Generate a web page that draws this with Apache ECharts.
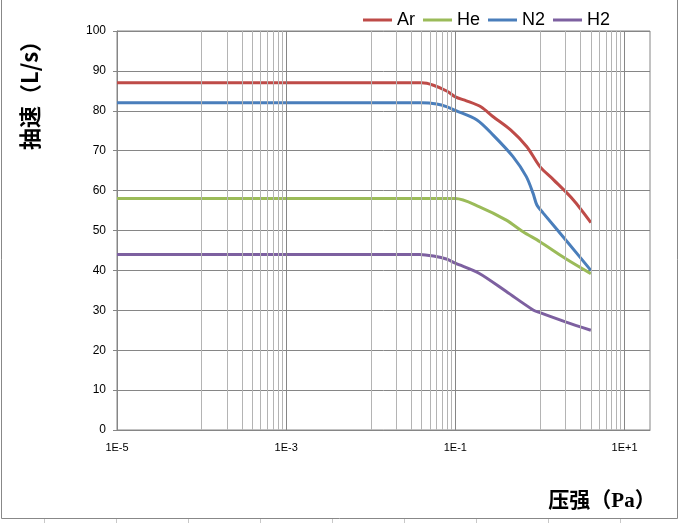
<!DOCTYPE html>
<html><head><meta charset="utf-8">
<script src="https://cdn.jsdelivr.net/npm/echarts@6/dist/echarts.min.js"></script>
<style>html,body{margin:0;padding:0;background:#fff}#c{width:687px;height:523px}</style>
</head><body><div id="c"></div>
<script>
// pressure (Pa) and pumping speed (L/s)
const arP = [1e-5, 1e-3, 0.01, 0.04, 0.055, 0.08, 0.1, 0.135, 0.2, 0.28, 0.45, 0.7, 1.0, 1.45, 2.5, 4];
const arV = [87, 87, 87, 87, 86.4, 84.9, 83.5, 82.5, 81.0, 78.5, 75.2, 71.0, 66.0, 62.7, 57.6, 52];
const heP = [1e-5, 1e-3, 0.05, 0.1, 0.19, 0.40, 0.63, 1.0, 2.0, 4];
const heV = [58, 58, 58, 58, 56.0, 52.6, 49.7, 47.2, 43.0, 39.2];
const n2P = [1e-5, 1e-3, 0.04, 0.06, 0.08, 0.1, 0.18, 0.28, 0.48, 0.69, 0.83, 0.92, 1.1, 2.1, 4];
const n2V = [82, 82, 82, 81.7, 81.0, 80.1, 77.7, 73.9, 68.5, 63.5, 59.3, 56.4, 54.3, 47.2, 40];
const h2P = [1e-5, 1e-3, 0.038, 0.055, 0.08, 0.1, 0.19, 0.40, 0.83, 1.0, 2.0, 4];
const h2V = [44, 44, 44, 43.6, 42.8, 41.8, 39.3, 34.7, 30.1, 29.4, 27.1, 25];
const seriesNames = ['Ar', 'He', 'N2', 'H2'];
const xTickLabels = ['1E-5', '1E-3', '1E-1', '1E+1'];
const yTicks = [0, 10, 20, 30, 40, 50, 60, 70, 80, 90, 100];

const colors = ['#BE4B48', '#9BBB59', '#4A7EBB', '#7D60A0'];
const zip = (p, v) => p.map((x, i) => [x, v[i]]);
const data = [zip(arP, arV), zip(heP, heV), zip(n2P, n2V), zip(h2P, h2V)];

function expLabel(v) {
  const e = Math.log10(v), r = Math.round(e);
  if (Math.abs(e - r) > 1e-6) return '';
  return '1E' + (r < 0 ? '-' : '+') + Math.abs(r);
}

// vertical grid lines (Excel-style log gridlines)
const gridMarks = [];
[-4, -2, 0].forEach(m => {
  for (let k = 1; k <= 10; k++) {
    const v = k * Math.pow(10, m);
    const major = xTickLabels.includes(expLabel(v));
    gridMarks.push({ xAxis: v, lineStyle: { color: major ? '#868686' : '#b4b4b4', width: 1, type: 'solid' } });
  }
});

const chart = echarts.init(document.getElementById('c'), null, { renderer: 'canvas' });
const series = seriesNames.map((name, i) => ({
  name, type: 'line', data: data[i], showSymbol: false, symbol: 'none', smooth: 0.3,
  lineStyle: { width: 3, color: colors[i] }, itemStyle: { color: colors[i] }, z: 3, animation: false
}));
series.push({
  name: '_grid', type: 'line', data: [], z: 1, silent: true, animation: false,
  markLine: { silent: true, precision: 12, symbol: ['none', 'none'], label: { show: false }, animation: false, data: gridMarks }
});

const bottomCells = [];
for (let k = 0; k <= 8; k++) {
  bottomCells.push({ type: 'line', shape: { x1: 44.5 + 72 * k, y1: 519, x2: 44.5 + 72 * k, y2: 523 }, style: { stroke: '#c8c8c8', lineWidth: 1 } });
}

chart.setOption({
  backgroundColor: '#fff',
  animation: false,
  color: colors,
  legend: {
    data: seriesNames, left: 358, top: 6, icon: 'rect', itemWidth: 29, itemHeight: 3, itemGap: 8,
    textStyle: { fontFamily: "'Liberation Sans', sans-serif", fontSize: 18, color: '#000' }
  },
  grid: { left: 117, right: 37, top: 31, bottom: 93, show: true, borderColor: '#868686', borderWidth: 1, containLabel: false },
  xAxis: {
    type: 'log', logBase: 10, min: 1e-5, max: 20, splitNumber: 7,
    axisLine: { show: true, lineStyle: { color: '#868686' } },
    axisTick: { show: false },
    splitLine: { show: false },
    axisLabel: {
      margin: 12, fontSize: 11, color: '#000', fontFamily: "'Liberation Sans', sans-serif",
      formatter: v => { const s = expLabel(v); return xTickLabels.includes(s) ? s : ''; }
    }
  },
  yAxis: {
    type: 'value', min: yTicks[0], max: yTicks[yTicks.length - 1], interval: 10,
    axisLine: { show: true, lineStyle: { color: '#868686' } },
    axisTick: { show: true, inside: false, length: 4, lineStyle: { color: '#868686' } },
    splitLine: { show: true, lineStyle: { color: '#868686', width: 1 } },
    axisLabel: { margin: 11, fontSize: 12, color: '#000', fontFamily: "'Liberation Sans', sans-serif" }
  },
  graphic: [
    { type: 'line', shape: { x1: 1.5, y1: 0, x2: 1.5, y2: 518.5 }, style: { stroke: '#888', lineWidth: 1 } },
    { type: 'line', shape: { x1: 1.5, y1: 518.5, x2: 677.5, y2: 518.5 }, style: { stroke: '#888', lineWidth: 1 } },
    { type: 'line', shape: { x1: 677.5, y1: 0, x2: 677.5, y2: 518.5 }, style: { stroke: '#888', lineWidth: 1 } },
    ...bottomCells,
    {
      type: 'text', x: 30, y: 90, rotation: Math.PI / 2,
      style: { text: '抽速（L/s）', fill: '#000', font: "bold 22px 'Noto Sans CJK SC', sans-serif", align: 'center', verticalAlign: 'middle' }
    },
    {
      type: 'text', x: 602, y: 502,
      style: { text: '压强（Pa）', fill: '#000', font: "bold 21px 'Liberation Serif', 'Noto Sans CJK SC', serif", align: 'center', verticalAlign: 'middle' }
    }
  ],
  series
});
</script></body></html>
